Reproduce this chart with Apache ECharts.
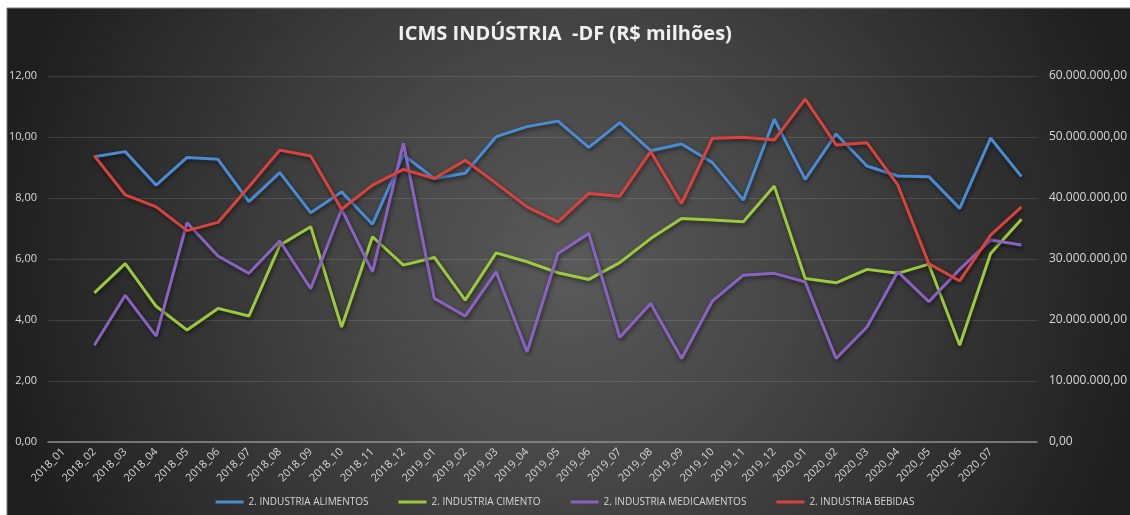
<!DOCTYPE html>
<html>
<head>
<meta charset="utf-8">
<script src="https://cdn.jsdelivr.net/npm/echarts@6/dist/echarts.min.js"></script>
<style>
  html, body { margin: 0; padding: 0; background: #ffffff; }
  #chart { width: 1130px; height: 515px; }
</style>
</head>
<body>
<div id="chart"></div>
<script>
// eixo x: 31 rótulos + uma posição final sem rótulo
var meses = ['2018_01', '2018_02', '2018_03', '2018_04', '2018_05', '2018_06', '2018_07', '2018_08',
  '2018_09', '2018_10', '2018_11', '2018_12', '2019_01', '2019_02', '2019_03', '2019_04', '2019_05',
  '2019_06', '2019_07', '2019_08', '2019_09', '2019_10', '2019_11', '2019_12', '2020_01', '2020_02',
  '2020_03', '2020_04', '2020_05', '2020_06', '2020_07', ''];

// valores (escala da esquerda); a primeira posição fica vazia
var alimentos = ['-', 9.35, 9.52, 8.42, 9.33, 9.27, 7.88, 8.83, 7.52, 8.20, 7.14, 9.41, 8.64, 8.81, 10.01,
  10.34, 10.52, 9.66, 10.47, 9.55, 9.77, 9.16, 7.93, 10.58, 8.61, 10.10, 9.05, 8.72, 8.70, 7.66, 9.96, 8.70];
var cimento = ['-', 4.89, 5.85, 4.45, 3.67, 4.38, 4.13, 6.45, 7.06, 3.77, 6.73, 5.80, 6.05, 4.65, 6.20,
  5.91, 5.55, 5.33, 5.88, 6.67, 7.33, 7.28, 7.22, 8.39, 5.36, 5.22, 5.66, 5.53, 5.83, 3.17, 6.18, 7.30];
var medicamentos = ['-', 3.17, 4.81, 3.47, 7.19, 6.10, 5.53, 6.59, 5.03, 7.63, 5.58, 9.79, 4.71, 4.13, 5.58,
  2.95, 6.18, 6.84, 3.43, 4.54, 2.74, 4.63, 5.47, 5.53, 5.25, 2.74, 3.77, 5.58, 4.60, 5.66, 6.62, 6.46];
var bebidas = ['-', 9.38, 8.10, 7.71, 6.93, 7.20, 8.37, 9.57, 9.38, 7.63, 8.42, 8.94, 8.64, 9.24, 8.48,
  7.71, 7.22, 8.15, 8.06, 9.52, 7.82, 9.96, 9.99, 9.90, 11.24, 9.74, 9.81, 8.42, 5.85, 5.28, 6.78, 7.71];

var nomes = ['2. INDUSTRIA ALIMENTOS', '2. INDUSTRIA CIMENTO', '2. INDUSTRIA MEDICAMENTOS', '2. INDUSTRIA BEBIDAS'];
var cores = ['#4a8bd3', '#9cc93e', '#8a63c2', '#d9423d'];
var valores = [alimentos, cimento, medicamentos, bebidas];

var chart = echarts.init(document.getElementById('chart'));

function fmtEsq(v) {
  return v.toFixed(2).replace('.', ',');
}
function fmtDir(v) {
  var s = Math.round(v).toString().replace(/\B(?=(\d{3})+(?!\d))/g, '.');
  return s + ',00';
}

var series = valores.map(function (d, i) {
  return {
    name: nomes[i],
    type: 'line',
    data: d,
    showSymbol: false,
    symbol: 'none',
    lineStyle: {
      width: 3,
      color: cores[i],
      shadowColor: 'rgba(0,0,0,0.55)',
      shadowBlur: 4,
      shadowOffsetX: 1,
      shadowOffsetY: 2
    },
    itemStyle: { color: cores[i] },
    emphasis: { disabled: true }
  };
});

chart.setOption({
  animation: false,
  textStyle: { fontFamily: 'Open Sans' },
  graphic: [{
    type: 'rect',
    z: -10,
    silent: true,
    shape: { x: 7, y: 8, width: 1130, height: 510 },
    style: {
      fill: new echarts.graphic.RadialGradient(0.5, 0.5, 1.15, [
        { offset: 0, color: '#5a5a5a' },
        { offset: 0.4, color: '#444444' },
        { offset: 1, color: '#1e1e1e' }
      ]),
      stroke: '#7a7a7a',
      lineWidth: 1
    }
  }],
  title: {
    text: 'ICMS INDÚSTRIA  -DF (R$ milhões)',
    left: 'center',
    top: 19,
    textStyle: { color: '#f0f0f0', fontSize: 20, fontWeight: 'bold', fontFamily: 'Open Sans' }
  },
  legend: {
    data: nomes,
    bottom: 3,
    left: 'center',
    icon: 'rect',
    itemWidth: 28,
    itemHeight: 3,
    itemGap: 30,
    textStyle: { color: '#d6d6d6', fontSize: 10, fontFamily: 'Open Sans' }
  },
  grid: { left: 48, right: 72, top: 76, bottom: 73 },
  xAxis: {
    type: 'category',
    data: meses,
    boundaryGap: true,
    axisLine: { lineStyle: { color: '#8c8c8c', width: 1.5 } },
    axisTick: { show: false },
    axisLabel: { color: '#d9d9d9', fontSize: 11, rotate: 45, interval: 0, margin: 8 }
  },
  yAxis: [{
    type: 'value',
    min: 0,
    max: 12,
    interval: 2,
    axisLine: { show: false },
    axisTick: { show: false },
    axisLabel: { color: '#d9d9d9', fontSize: 11, margin: 11, formatter: fmtEsq },
    splitLine: { lineStyle: { color: 'rgba(255,255,255,0.12)', width: 1 } }
  }, {
    type: 'value',
    min: 0,
    max: 60000000,
    interval: 10000000,
    position: 'right',
    axisLine: { show: false },
    axisTick: { show: false },
    axisLabel: { color: '#d9d9d9', fontSize: 12, margin: 12, formatter: fmtDir },
    splitLine: { show: false }
  }],
  series: series
});
</script>
</body>
</html>
